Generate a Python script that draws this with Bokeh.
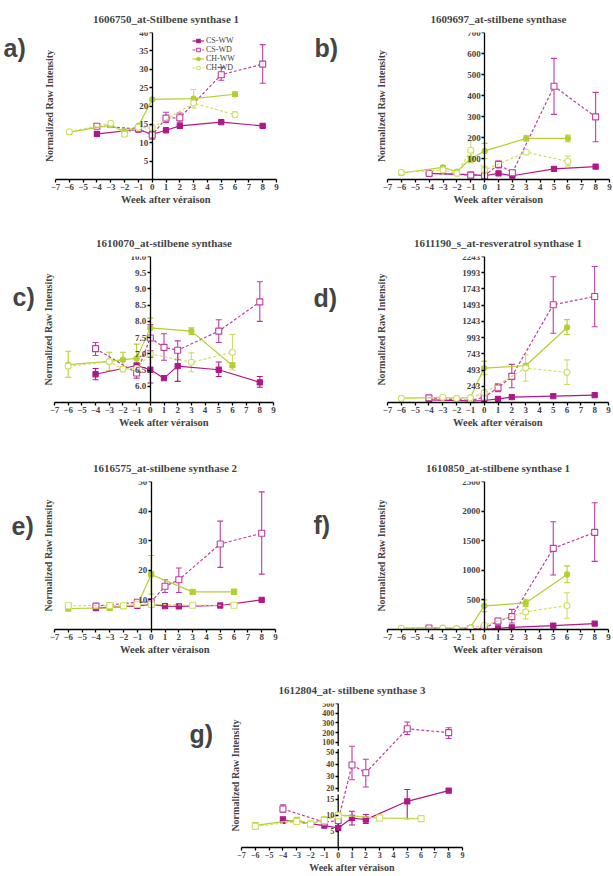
import numpy as np
from bokeh.plotting import figure
from bokeh.layouts import column, row
from bokeh.models import (ColumnDataSource, Whisker, TeeHead, FixedTicker, Label,
                          Title, Range1d, NumeralTickFormatter)
from bokeh.embed import file_html
from bokeh.resources import INLINE

SERIF = "Liberation Serif"
SANS = "Liberation Sans"
N = None

WEEKS_CS = [-4, -1, 0, 1, 2, 5, 8]
WEEKS_CH = [-6, -3, -2, -1, 0, 3, 6]
X_TICKS = list(range(-7, 10))
SERIES = ["CS-WW", "CS-WD", "CH-WW", "CH-WD"]

# ---------------- a) 1606750_at-Stilbene synthase 1
a_cs_ww = [12.4, 13.6, 12.3, 13.4, 14.6, 15.6, 14.6]
a_cs_ww_lo = [12.0, N, N, N, N, N, 14.2]
a_cs_ww_hi = [12.8, N, N, N, N, N, 15.1]
a_cs_wd = [14.5, 13.8, 12.1, 16.7, 16.8, 28.5, 31.4]
a_cs_wd_lo = [14.0, N, 11.0, 15.5, 15.6, 27.0, 26.2]
a_cs_wd_hi = [15.0, N, 13.2, 18.3, 18.1, 30.5, 36.7]
a_ch_ww = [12.9, 14.8, 13.0, 14.6, 21.8, 22.0, 23.2]
a_ch_ww_lo = [12.4, N, 12.3, N, N, N, 22.6]
a_ch_ww_hi = [13.4, N, 13.7, N, N, N, 23.8]
a_ch_wd = [13.0, 15.3, 12.3, 14.2, 14.0, 20.8, 17.6]
a_ch_wd_lo = [N, 14.8, 11.8, N, 13.2, 19.5, 17.0]
a_ch_wd_hi = [N, 15.8, 12.8, N, 14.8, 24.5, 18.4]
a_yticks = [5, 10, 15, 20, 25, 30, 35, 40]

# ---------------- b) 1609697_at-stilbene synthase
b_cs_ww = [29, 23, 18, 29, 18, 51, 61]
b_cs_ww_lo = [N] * 7
b_cs_ww_hi = [N] * 7
b_cs_wd = [29, 21, 18, 72, 32, 444, 298]
b_cs_wd_lo = [N, N, N, 55, 20, 310, 180]
b_cs_wd_hi = [N, N, N, 88, 45, 577, 415]
b_ch_ww = [31, 58, 37, 100, 136, 196, 196]
b_ch_ww_lo = [22, 50, N, 80, 100, 184, 180]
b_ch_ww_hi = [40, 66, N, 130, 172, 208, 212]
b_ch_wd = [34, 45, 29, 139, 45, 130, 86]
b_ch_wd_lo = [N, N, N, 85, 30, N, 65]
b_ch_wd_hi = [N, N, N, 185, 60, N, 112]
b_yticks = [100, 200, 300, 400, 500, 600, 700]

# ---------------- c) 1610070_at-stilbene synthase
c_cs_ww = [6.37, 6.64, 6.51, 6.25, 6.62, 6.51, 6.12]
c_cs_ww_lo = [6.2, N, 6.1, N, 6.15, 6.3, 5.97]
c_cs_ww_hi = [6.55, N, 6.9, N, 7.1, 6.75, 6.3]
c_cs_wd = [7.16, 6.41, 7.49, 7.2, 7.11, 7.7, 8.6]
c_cs_wd_lo = [6.95, 6.25, 7.1, 6.8, 6.82, 7.35, 8.0]
c_cs_wd_hi = [7.35, 6.6, 7.9, 7.62, 7.4, 8.05, 9.22]
c_ch_ww = [6.67, 6.77, 6.82, 6.86, 7.8, 7.7, 6.64]
c_ch_ww_lo = [6.28, 6.48, 6.5, 6.45, 7.5, 7.6, 6.58]
c_ch_ww_hi = [7.08, 7.05, 7.05, 7.3, 8.1, 7.8, 6.72]
c_ch_wd = [6.62, 6.76, 6.53, 6.55, 7.0, 6.74, 7.05]
c_ch_wd_lo = [N, N, 6.45, N, N, 6.45, 6.5]
c_ch_wd_hi = [N, N, 6.6, N, N, 7.03, 7.6]
c_yticks = [6.0, 6.5, 7.0, 7.5, 8.0, 8.5, 9.0, 9.5, 10.0]

# ---------------- d) 1611190_s_at-resveratrol synthase 1
d_cs_ww = [34, 19, 24, 50, 75, 90, 106]
d_cs_ww_lo = [N] * 7
d_cs_ww_hi = [N] * 7
d_cs_wd = [65, 24, 75, 218, 396, 1500, 1627]
d_cs_wd_lo = [N, N, N, 160, 220, 1060, 1160]
d_cs_wd_hi = [N, N, N, 280, 580, 1930, 2090]
d_ch_ww = [60, 70, 60, 70, 523, 559, 1149]
d_ch_ww_lo = [N, N, N, N, 420, N, 1040]
d_ch_ww_hi = [N, N, N, N, 630, N, 1270]
d_ch_wd = [55, 75, 55, 65, 141, 523, 457]
d_ch_wd_lo = [N, N, N, N, 90, 320, 270]
d_ch_wd_hi = [N, N, N, N, 190, 730, 650]
d_yticks = [243, 493, 743, 993, 1243, 1493, 1743, 1993, 2243]

# ---------------- e) 1616575_at-stilbene synthase 2
e_cs_ww = [7.2, 8.0, 8.5, 7.9, 7.8, 8.1, 10.0]
e_cs_ww_lo = [N] * 7
e_cs_ww_hi = [N] * 7
e_cs_wd = [7.9, 9.2, 9.4, 14.6, 16.8, 28.9, 32.5]
e_cs_wd_lo = [N, N, N, 12.5, 12.5, 21.0, 18.7]
e_cs_wd_hi = [N, N, N, 16.8, 20.8, 36.6, 46.5]
e_ch_ww = [7.1, 7.3, 7.9, 8.3, 18.6, 12.7, 12.7]
e_ch_ww_lo = [N, N, N, N, 12.0, N, 11.8]
e_ch_ww_hi = [N, N, N, N, 25.0, N, 13.6]
e_ch_wd = [8.0, 8.1, 8.0, 8.5, 8.5, 8.2, 8.2]
e_ch_wd_lo = [N] * 7
e_ch_wd_hi = [N] * 7
e_yticks = [10, 20, 30, 40, 50]

# ---------------- f) 1610850_at-stilbene synthase 1
f_cs_ww = [14, 8, 3, 20, 37, 65, 99]
f_cs_ww_lo = [N] * 7
f_cs_ww_hi = [N] * 7
f_cs_wd = [25, 8, 20, 144, 218, 1370, 1641]
f_cs_wd_lo = [N, N, N, 90, 110, 920, 1150]
f_cs_wd_hi = [N, N, N, 190, 340, 1820, 2140]
f_ch_ww = [25, 31, 20, 37, 398, 449, 930]
f_ch_ww_lo = [N, N, N, N, 300, 390, 790]
f_ch_ww_hi = [N, N, N, N, 500, 510, 1075]
f_ch_wd = [20, 20, 14, 20, 71, 297, 404]
f_ch_wd_lo = [N, N, N, N, N, 180, 190]
f_ch_wd_hi = [N, N, N, N, N, 410, 620]
f_yticks = [500, 1000, 1500, 2000, 2500]

# ---------------- g) 1612804_at- stilbene synthase 3 (segmented axis)
g_cs_ww = [8.6, 6.8, 6.1, 9.2, 8.7, 14.4, 18.0]
g_cs_ww_lo = [7.5, N, 5.5, 7.0, 7.5, 9.0, 17.4]
g_cs_ww_hi = [9.6, N, 6.6, 11.3, 10.3, 19.0, 18.6]
g_cs_wd = [12.0, 7.9, 8.4, 39.3, 32.9, 240, 200]
g_cs_wd_lo = [11.0, N, N, 27, 21, 180, 140]
g_cs_wd_hi = [13.3, N, N, 80, 44, 310, 250]
g_ch_ww = [6.9, 8.6, 7.4, 8.8, 10.2, 9.2, 9.0]
g_ch_ww_lo = [6.0, N, N, N, N, N, 8.6]
g_ch_ww_hi = [7.7, N, N, N, N, N, 9.4]
g_ch_wd = [6.6, 8.1, 7.3, 8.4, 9.9, 9.2, 9.0]
g_ch_wd_lo = [N] * 7
g_ch_wd_hi = [N] * 7
g_yticks = [5, 10, 15, 20, 30, 40, 50, 100, 200, 300, 400, 500]
# piecewise (segmented) axis scale: value knots -> axis position knots
G_KNOT_VAL = [0, 16.5, 17, 50, 100, 500]
G_KNOT_POS = [0, 54.5, 57.3, 98.3, 108.3, 148.3]
G_AXIS_PIECES = [(0, 54.5), (57.3, 101.5), (104.5, 148.3)]

STYLE = {
    "CS-WW": dict(color="#B0188A", dash="solid", fill=True),
    "CS-WD": dict(color="#BE3CA2", dash="3 2", fill=False),
    "CH-WW": dict(color="#B2D130", dash="solid", fill=True),
    "CH-WD": dict(color="#D0DE66", dash="3 2", fill=False),
}


def g_scale(vals):
    return [None if v is None else float(np.interp(v, G_KNOT_VAL, G_KNOT_POS)) for v in vals]


def letter_fig(letter, w, h, lx, baseline):
    p = figure(width=w, height=h, x_range=Range1d(0, w), y_range=Range1d(0, h),
               output_backend="svg", toolbar_location=None, title=None, min_border=0)
    p.axis.visible = False
    p.xgrid.visible = False
    p.ygrid.visible = False
    p.outline_line_color = None
    p.border_fill_color = "white"
    p.add_layout(Label(x=lx, y=h - baseline, text=letter, text_font=SANS,
                       text_font_style="bold", text_font_size="25px",
                       text_baseline="alphabetic", text_align="left"))
    return p


def make_panel(title, vals, los, his, yr, yticks, geom, fmt=None, tf=None, legend=None,
               ch_marker="circle", tick_fs="9px", xlab_fs="10.5px"):
    w, h, bl, br, bt, bb = geom
    p = figure(width=w, height=h, x_range=Range1d(-7, 9), y_range=Range1d(*yr),
               output_backend="svg", toolbar_location=None,
               min_border_left=bl, min_border_right=br,
               min_border_top=bt, min_border_bottom=bb)
    p.background_fill_color = "white"
    p.border_fill_color = "white"
    p.outline_line_color = None
    p.xgrid.visible = False
    p.ygrid.visible = False

    p.title.text = title
    p.title.align = "center"
    p.title.text_font = SERIF
    p.title.text_font_size = "11px"
    p.title.text_font_style = "bold"
    p.title.standoff = 15

    for ax in (p.xaxis[0], p.yaxis[0]):
        ax.axis_line_width = 1.3
        ax.major_tick_line_width = 1.3
        ax.major_tick_out = 3
        ax.major_tick_in = 0
        ax.minor_tick_line_color = None
        ax.major_label_text_font = SERIF
        ax.major_label_text_font_style = "bold"
        ax.major_label_text_font_size = tick_fs
        ax.major_label_standoff = 1

    p.xaxis.ticker = FixedTicker(ticks=X_TICKS)
    p.xaxis.axis_label = "Week after véraison"
    p.xaxis.axis_label_text_font = SERIF
    p.xaxis.axis_label_text_font_size = xlab_fs
    p.xaxis.axis_label_text_font_style = "bold"
    p.xaxis.axis_label_standoff = 1

    p.yaxis.fixed_location = 0
    if tf is None:
        p.yaxis.ticker = FixedTicker(ticks=yticks)
    else:
        tpos = tf(yticks)
        p.yaxis.ticker = FixedTicker(ticks=tpos)
        p.yaxis.major_label_overrides = {tp: str(t) for tp, t in zip(tpos, yticks)}
        p.yaxis.axis_line_color = None
        for y0, y1 in G_AXIS_PIECES:
            p.segment(x0=[0], y0=[y0], x1=[0], y1=[y1], line_color="black", line_width=1.3)
    if fmt:
        p.yaxis.formatter = NumeralTickFormatter(format=fmt)

    p.add_layout(Title(text="Normalized Raw Intensity", align="center", text_font=SERIF,
                       text_font_size="10px", text_font_style="bold", standoff=1), "left")

    for s in SERIES:
        st = STYLE[s]
        xs = WEEKS_CS if s.startswith("CS") else WEEKS_CH
        ys = tf(vals[s]) if tf else vals[s]
        lo = tf(los[s]) if tf else los[s]
        hi = tf(his[s]) if tf else his[s]
        kw = dict(legend_label=s) if legend else {}
        p.line(xs, ys, line_color=st["color"], line_width=1.2, line_dash=st["dash"], **kw)
        idx = [i for i in range(len(xs)) if lo[i] is not None]
        if idx:
            src = ColumnDataSource(dict(x=[xs[i] for i in idx], lo=[lo[i] for i in idx],
                                        hi=[hi[i] for i in idx]))
            p.add_layout(Whisker(source=src, base="x", lower="lo", upper="hi",
                                 line_color=st["color"], line_width=1.1,
                                 upper_head=TeeHead(size=6, line_color=st["color"], line_width=1.1),
                                 lower_head=TeeHead(size=6, line_color=st["color"], line_width=1.1)))
        marker = "square" if s.startswith("CS") else ch_marker
        p.scatter(xs, ys, marker=marker, size=5.2 if st["fill"] else 6,
                  fill_color=st["color"] if st["fill"] else "white",
                  line_color=st["color"], line_width=1.1, **kw)

    if legend:
        lg = p.legend[0]
        lg.location = legend
        lg.background_fill_alpha = 0
        lg.border_line_color = None
        lg.padding = 0
        lg.margin = 0
        lg.spacing = 0
        lg.glyph_width = 12
        lg.glyph_height = 9
        lg.label_height = 9
        lg.label_standoff = 2
        lg.label_text_font = SERIF
        lg.label_text_font_size = "8px"
    return p


def pack(cs_ww, cs_wd, ch_ww, ch_wd):
    return dict(zip(SERIES, [cs_ww, cs_wd, ch_ww, ch_wd]))


# row 1 (height 221)
la = letter_fig("a)", 39, 221, 3, 24)
pa = make_panel("1606750_at-Stilbene synthase 1",
                pack(a_cs_ww, a_cs_wd, a_ch_ww, a_ch_wd),
                pack(a_cs_ww_lo, a_cs_wd_lo, a_ch_ww_lo, a_ch_wd_lo),
                pack(a_cs_ww_hi, a_cs_wd_hi, a_ch_ww_hi, a_ch_wd_hi),
                (0, 40), a_yticks, (253, 221, 16, 16, 32, 42), legend=(137, 107))
lb = letter_fig("b)", 79, 221, 22, 24)
pb = make_panel("1609697_at-stilbene synthase",
                pack(b_cs_ww, b_cs_wd, b_ch_ww, b_ch_wd),
                pack(b_cs_ww_lo, b_cs_wd_lo, b_ch_ww_lo, b_ch_wd_lo),
                pack(b_cs_ww_hi, b_cs_wd_hi, b_ch_ww_hi, b_ch_wd_hi),
                (0, 700), b_yticks, (241, 221, 16, 3, 32, 42))
# row 2 (height 225)
lc = letter_fig("c)", 38, 225, 12, 62)
pc = make_panel("1610070_at-stilbene synthase",
                pack(c_cs_ww, c_cs_wd, c_ch_ww, c_ch_wd),
                pack(c_cs_ww_lo, c_cs_wd_lo, c_ch_ww_lo, c_ch_wd_lo),
                pack(c_cs_ww_hi, c_cs_wd_hi, c_ch_ww_hi, c_ch_wd_hi),
                (5.5, 10.0), c_yticks, (254, 225, 16, 19, 35, 44), fmt="0.0")
ld = letter_fig("d)", 79, 225, 21, 64)
pd_ = make_panel("1611190_s_at-resveratrol synthase 1",
                 pack(d_cs_ww, d_cs_wd, d_ch_ww, d_ch_wd),
                 pack(d_cs_ww_lo, d_cs_wd_lo, d_ch_ww_lo, d_ch_wd_lo),
                 pack(d_cs_ww_hi, d_cs_wd_hi, d_ch_ww_hi, d_ch_wd_hi),
                 (-7, 2243), d_yticks, (241, 225, 16, 4, 35, 44))
# row 3 (height 218)
le = letter_fig("e)", 38, 218, 11, 66)
pe = make_panel("1616575_at-stilbene synthase 2",
                pack(e_cs_ww, e_cs_wd, e_ch_ww, e_ch_wd),
                pack(e_cs_ww_lo, e_cs_wd_lo, e_ch_ww_lo, e_ch_wd_lo),
                pack(e_cs_ww_hi, e_cs_wd_hi, e_ch_ww_hi, e_ch_wd_hi),
                (0, 50), e_yticks, (254, 218, 16, 17, 35, 35), ch_marker="square")
lf = letter_fig("f)", 79, 218, 21, 64)
pf = make_panel("1610850_at-stilbene synthase 1",
                pack(f_cs_ww, f_cs_wd, f_ch_ww, f_ch_wd),
                pack(f_cs_ww_lo, f_cs_wd_lo, f_ch_ww_lo, f_ch_wd_lo),
                pack(f_cs_ww_hi, f_cs_wd_hi, f_ch_ww_hi, f_ch_wd_hi),
                (0, 2500), f_yticks, (241, 218, 16, 4, 35, 35))
# row 4 (height 211)
lg_ = letter_fig("g)", 225, 211, 189, 44)
pg = make_panel("1612804_at- stilbene synthase 3",
                pack(g_cs_ww, g_cs_wd, g_ch_ww, g_ch_wd),
                pack(g_cs_ww_lo, g_cs_wd_lo, g_ch_ww_lo, g_ch_wd_lo),
                pack(g_cs_ww_hi, g_cs_wd_hi, g_ch_ww_hi, g_ch_wd_hi),
                (0, G_KNOT_POS[-1]), g_yticks, (263, 211, 16, 26, 39, 27),
                tf=g_scale, ch_marker="square", tick_fs="8px", xlab_fs="10px")

layout = column(row(la, pa, lb, pb), row(lc, pc, ld, pd_), row(le, pe, lf, pf), row(lg_, pg))
open("out.html", "w").write(file_html(layout, INLINE))
